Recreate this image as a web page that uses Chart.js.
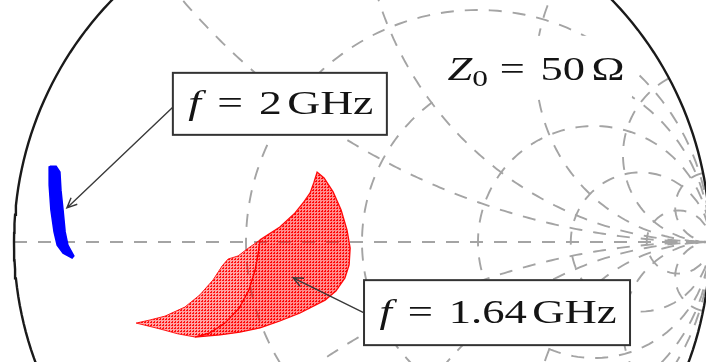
<!DOCTYPE html>
<html>
<head>
<meta charset="utf-8">
<script src="https://cdn.jsdelivr.net/npm/chart.js@4.4.0/dist/chart.umd.min.js"></script>
<style>
  html, body { margin: 0; padding: 0; background: #fff; }
  canvas { display: block; }
</style>
</head>
<body>
<canvas id="smith" width="706" height="362"></canvas>
<script>
// grid: constant-resistance circles and constant-reactance arcs (normalised to Z0)
const gridResistance = [0.5, 1, 2, 4, 10];
const gridReactance = [0.5, 1, 2, 4, 10, -0.5, -1, -2, -4, -10];

// reflection coefficient outlines [Re, Im]
const locus2GHz = [
  [-0.897, 0.218], [-0.899, 0.164], [-0.894, 0.092], [-0.885, 0.029],
  [-0.876, -0.009], [-0.859, -0.032], [-0.833, -0.046], [-0.828, -0.040],
  [-0.845, -0.009], [-0.853, 0.029], [-0.859, 0.092], [-0.865, 0.149],
  [-0.868, 0.201], [-0.879, 0.218]
];
const locus164Lobe = [
  [-0.649, -0.233], [-0.609, -0.224], [-0.566, -0.213], [-0.509, -0.187],
  [-0.466, -0.152], [-0.428, -0.109], [-0.402, -0.069], [-0.385, -0.049],
  [-0.356, -0.040], [-0.330, -0.020], [-0.293, 0.006], [-0.299, -0.037],
  [-0.307, -0.080], [-0.325, -0.138], [-0.353, -0.190], [-0.394, -0.233],
  [-0.437, -0.261], [-0.480, -0.273], [-0.529, -0.264], [-0.580, -0.250],
  [-0.624, -0.239]
];
const locus164Main = [
  [-0.293, 0.006], [-0.236, 0.043], [-0.193, 0.083], [-0.167, 0.115],
  [-0.149, 0.141], [-0.138, 0.172], [-0.129, 0.201], [-0.109, 0.184],
  [-0.083, 0.144], [-0.060, 0.092], [-0.043, 0.034], [-0.034, -0.017],
  [-0.037, -0.066], [-0.049, -0.103], [-0.075, -0.141], [-0.106, -0.167],
  [-0.178, -0.204], [-0.236, -0.227], [-0.293, -0.247], [-0.351, -0.259],
  [-0.408, -0.267], [-0.480, -0.273], [-0.437, -0.261], [-0.394, -0.233],
  [-0.353, -0.190], [-0.325, -0.138], [-0.307, -0.080], [-0.299, -0.037]
];

// annotation anchors in the reflection plane
const label2GHz = { text: '2', at: [-0.236, 0.397], arrowFrom: [-0.543, 0.388], arrowTo: [-0.848, 0.098] };
const label164GHz = { text: '1.64', at: [0.388, -0.203], arrowFrom: [0.006, -0.204], arrowTo: [-0.198, -0.103] };
const labelZ0 = { text: '50', at: [0.500, 0.466] };

// z = r + jx  ->  gamma = (z - 1) / (z + 1)
function gamma(r, x) {
  const d = (r + 1) * (r + 1) + x * x;
  return { x: (r * r - 1 + x * x) / d, y: (2 * x) / d };
}

function resistanceCircle(r) {
  const pts = [];
  for (let i = 0; i <= 240; i++) {
    const t = -Math.PI / 2 + Math.PI * i / 240;
    pts.push(gamma(r, Math.tan(t)));
  }
  return pts;
}

function reactanceArc(x) {
  const pts = [];
  for (let i = 0; i <= 200; i++) {
    const t = (Math.PI / 2) * i / 200;
    pts.push(gamma(Math.tan(t), x));
  }
  return pts;
}

const GRID = '#a4a4a4';
const gridLine = (data) => ({
  data, showLine: true, pointRadius: 0, borderColor: GRID, borderWidth: 1.9,
  borderDash: [13, 11], fill: false, order: 10
});

function dotPattern(haze, dot) {
  const c = document.createElement('canvas');
  c.width = 3; c.height = 3;
  const g = c.getContext('2d');
  g.fillStyle = haze; g.fillRect(0, 0, 3, 3);
  g.fillStyle = dot; g.fillRect(0, 1, 2, 1); g.fillRect(1, 0, 1, 1);
  return g.createPattern(c, 'repeat');
}

const toPts = (arr) => arr.map(p => ({ x: p[0], y: p[1] })).concat([{ x: arr[0][0], y: arr[0][1] }]);

const datasets = [];
gridResistance.forEach(r => datasets.push(gridLine(resistanceCircle(r))));
gridReactance.forEach(x => datasets.push(gridLine(reactanceArc(x))));
datasets.push(gridLine([{ x: -1, y: 0 }, { x: 1, y: 0 }]));
// rim |gamma| = 1
datasets.push({
  data: resistanceCircle(0), showLine: true, pointRadius: 0,
  borderColor: '#1a1a1a', borderWidth: 2.4, fill: false, order: 5
});
datasets.push({
  data: toPts(locus164Lobe), showLine: true, pointRadius: 0, borderColor: 'rgba(255,0,0,0.85)',
  borderWidth: 1, polyFill: dotPattern('rgba(255,0,0,0.36)', 'rgba(255,0,0,0.9)'), order: 2
});
datasets.push({
  data: toPts(locus164Main), showLine: true, pointRadius: 0, borderColor: 'rgba(255,0,0,0.95)',
  borderWidth: 1.3, polyFill: dotPattern('rgba(255,0,0,0.45)', 'rgba(255,0,0,0.95)'), order: 1
});
datasets.push({
  data: toPts(locus2GHz), showLine: true, pointRadius: 0, borderColor: '#0000ff',
  borderWidth: 1.5, polyFill: '#0000ff', order: 1
});

// fill closed outlines using the element positions from the scales
const polyFillPlugin = {
  id: 'polyFill',
  beforeDatasetDraw(chart, args) {
    const ds = chart.data.datasets[args.index];
    if (!ds.polyFill) return;
    const pts = args.meta.data;
    const ctx = chart.ctx;
    ctx.save();
    ctx.beginPath();
    pts.forEach((p, i) => (i ? ctx.lineTo(p.x, p.y) : ctx.moveTo(p.x, p.y)));
    ctx.closePath();
    ctx.fillStyle = ds.polyFill;
    ctx.fill();
    ctx.restore();
  }
};

const SERIF = '"Liberation Serif", "DejaVu Serif", serif';

// lay out text runs centred on cx, widened to the given span
function drawRuns(ctx, runs, cx, baseline, span) {
  let w = 0;
  runs.forEach(r => { ctx.font = r.font; w += ctx.measureText(r.t).width + (r.gap || 0); });
  const k = span / w;
  ctx.save();
  ctx.translate(cx - span / 2, baseline);
  ctx.scale(k, 1);
  let x = 0;
  runs.forEach(r => {
    ctx.font = r.font;
    ctx.fillText(r.t, x, r.dy || 0);
    x += ctx.measureText(r.t).width + (r.gap || 0);
  });
  ctx.restore();
}

function arrow(ctx, x0, y0, x1, y1) {
  const a = Math.atan2(y1 - y0, x1 - x0);
  ctx.beginPath();
  ctx.moveTo(x0, y0); ctx.lineTo(x1, y1);
  ctx.moveTo(x1 - 11 * Math.cos(a - 0.42), y1 - 11 * Math.sin(a - 0.42));
  ctx.lineTo(x1, y1);
  ctx.lineTo(x1 - 11 * Math.cos(a + 0.42), y1 - 11 * Math.sin(a + 0.42));
  ctx.stroke();
}

const labelPlugin = {
  id: 'labels',
  afterDraw(chart) {
    const ctx = chart.ctx;
    const sx = chart.scales.x, sy = chart.scales.y;
    const px = (p) => [sx.getPixelForValue(p[0]), sy.getPixelForValue(p[1])];
    const size = 34;
    const roman = `${size}px ${SERIF}`;
    const freqRuns = (v) => [
      { t: 'f', font: `italic ${size}px ${SERIF}`, gap: 12 },
      { t: '=', font: roman, gap: 12 },
      { t: v, font: roman, gap: 4 },
      { t: 'GHz', font: roman }
    ];
    ctx.save();
    ctx.textBaseline = 'alphabetic';

    // Z0 label on a white ground
    const [zx, zy] = px(labelZ0.at);
    ctx.fillStyle = '#fff';
    ctx.fillRect(zx - 96, zy - 44, 192, 62);
    ctx.fillStyle = '#141414';
    drawRuns(ctx, [
      { t: 'Z', font: `italic ${size}px ${SERIF}` },
      { t: '0', font: `${size - 10}px ${SERIF}`, dy: 6, gap: 9 },
      { t: '=', font: roman, gap: 12 },
      { t: labelZ0.text, font: roman, gap: 5 },
      { t: 'Ω', font: roman }
    ], zx, zy, 177);

    // arrows
    ctx.strokeStyle = '#3a3a3a';
    ctx.lineWidth = 1.4;
    [label2GHz, label164GHz].forEach(l => {
      const [a, b] = px(l.arrowFrom);
      const [c, d] = px(l.arrowTo);
      arrow(ctx, a, b, c, d);
    });

    // boxed frequency labels
    [[label2GHz, 214, 62, 185], [label164GHz, 266, 65, 237]].forEach(([l, w, h, span]) => {
      const [cx, cy] = px(l.at);
      ctx.fillStyle = '#fff';
      ctx.fillRect(cx - w / 2, cy - h / 2, w, h);
      ctx.strokeStyle = '#333';
      ctx.lineWidth = 2;
      ctx.strokeRect(cx - w / 2, cy - h / 2, w, h);
      ctx.fillStyle = '#141414';
      drawRuns(ctx, freqRuns(l.text), cx + 1, cy + 10, span);
    });
    ctx.restore();
  }
};

// pixel frame: centre of the chart at (362, 242), unit radius 348 px
new Chart(document.getElementById('smith'), {
  type: 'scatter',
  data: { datasets },
  options: {
    responsive: false,
    animation: false,
    events: [],
    layout: { padding: 0 },
    plugins: { legend: { display: false }, tooltip: { enabled: false } },
    scales: {
      x: { type: 'linear', display: false, min: -362 / 348, max: 344 / 348 },
      y: { type: 'linear', display: false, min: -120 / 348, max: 242 / 348 }
    }
  },
  plugins: [polyFillPlugin, labelPlugin]
});
</script>
</body>
</html>
